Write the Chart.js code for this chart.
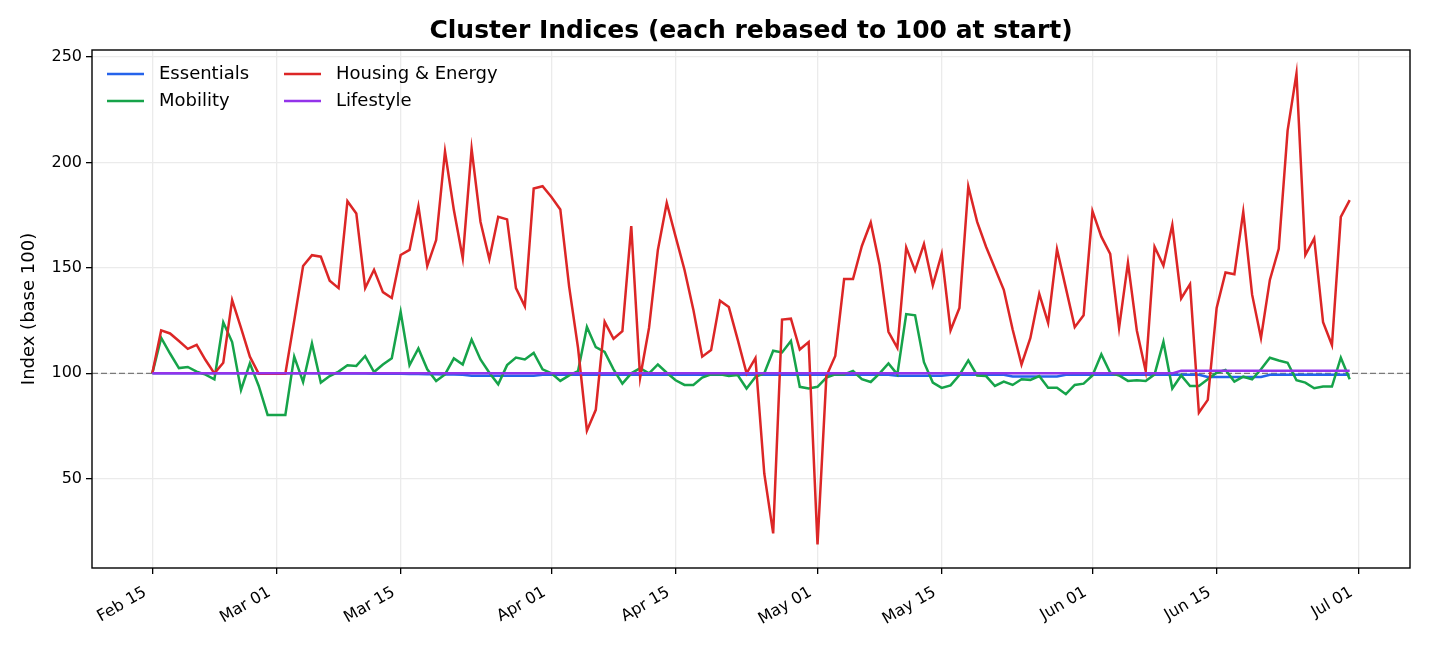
<!DOCTYPE html>
<html>
<head>
<meta charset="utf-8">
<script src="https://cdn.jsdelivr.net/npm/chart.js@4.4.1/dist/chart.umd.min.js"></script>
<style>
  html, body { margin: 0; padding: 0; background: #fff; }
</style>
</head>
<body>
<canvas id="chart" width="1430" height="650"></canvas>
<script>
// one value per day, Feb 15 -> Jun 30
const seriesNames = ["Essentials", "Mobility", "Housing & Energy", "Lifestyle"];
const seriesColors = ["#2563eb", "#16a34a", "#dc2626", "#9333ea"];

const tickDays = [0, 14, 28, 45, 59, 75, 89, 106, 120, 136];
const tickLabels = ["Feb 15", "Mar 01", "Mar 15", "Apr 01", "Apr 15", "May 01", "May 15", "Jun 01", "Jun 15", "Jul 01"];
const yTicks = [50, 100, 150, 200, 250];

const essentials = [
  100, 100, 100, 100, 100, 100, 100, 100, 100, 100,
  100, 100, 100, 100, 100, 100, 100, 100, 100, 100,
  99.9, 99.9, 99.9, 99.9, 99.9, 99.8, 99.8, 99.8, 99.8, 99.7,
  99.7, 99.6, 99.6, 99.5, 99.4, 99.3, 98.8, 98.8, 98.8, 98.8,
  98.8, 98.8, 98.8, 98.8, 99.3, 99.3, 99.3, 99.3, 99.3, 99.3,
  99.3, 99.3, 99.3, 99.3, 99.3, 99.3, 99.3, 99.3, 99.3, 99.3,
  99.3, 99.3, 99.3, 99.3, 99.3, 99.3, 99.3, 99.3, 99.3, 99.3,
  99.3, 99.3, 99.3, 99.3, 99.3, 99.3, 99.3, 99.3, 99.3, 99.3,
  99.3, 99.3, 99.3, 99.3, 98.9, 98.9, 98.9, 98.9, 98.9, 98.9,
  99.3, 99.3, 99.3, 99.3, 99.3, 99.3, 99.3, 98.5, 98.5, 98.5,
  98.5, 98.5, 98.5, 99.3, 99.3, 99.3, 99.3, 99.3, 99.3, 99.3,
  99.3, 99.3, 99.3, 99.3, 99.3, 99.3, 99.3, 99.3, 99.3, 98.3,
  98.3, 98.3, 98.3, 98.3, 98.3, 98.3, 99.3, 99.3, 99.3, 99.3,
  99.3, 99.3, 99.3, 99.3, 99.3, 99.3
];

const mobility = [
  100, 116.8, 109.4, 102.5, 103, 100.8, 99.4, 97.2, 124.2, 114.8,
  92.1, 104.7, 94, 80.3, 80.3, 80.3, 107.9, 95.9, 114.2, 95.6,
  98.7, 100.8, 103.8, 103.5, 108.2, 100.6, 104.2, 107.1, 129.1, 103.9,
  111.8, 101.9, 96.4, 99.5, 107.1, 104.2, 116, 106.6, 100.3, 94.8,
  103.9, 107.5, 106.6, 109.7, 101.9, 100, 96.4, 99, 101.1, 122,
  112.4, 110.2, 101.9, 95.1, 100, 102.4, 100, 104.2, 100.3, 96.7,
  94.5, 94.5, 98, 99.5, 99.5, 98.7, 99.2, 92.8, 98.3, 100,
  110.7, 109.9, 115.3, 93.6, 92.8, 93.6, 98, 99.5, 99.5, 101.1,
  97.2, 95.9, 100, 104.7, 99.5, 128.1, 127.5, 105.3, 95.6, 93.1,
  94.3, 99.2, 106.1, 99, 98.7, 94, 96.1, 94.5, 97.2, 96.9,
  98.7, 93.2, 93.2, 90.1, 94.5, 95.1, 99, 109, 100.3, 99,
  96.4, 96.7, 96.4, 99.5, 114.9, 92.8, 99, 94, 94, 97.2,
  100.3, 101.6, 96.1, 98.4, 97.2, 101.9, 107.4, 106.1, 105, 96.7,
  95.6, 92.9, 93.7, 93.7, 107.4, 97.2
];

const housing = [
  100, 120.4, 118.9, 115.3, 111.6, 113.5, 106.3, 100, 105, 134.7,
  121.5, 107.9, 99.8, 99.8, 99.8, 99.8, 125, 150.9, 156, 155.3,
  143.9, 140.4, 181.6, 175.8, 140.4, 149.1, 138.5, 135.7, 156.1, 158.5,
  179.2, 150.9, 163.2, 205.2, 177.4, 154.6, 206.4, 171.9, 154.1, 174.2,
  173, 140.4, 131.8, 187.6, 188.7, 183.6, 177.7, 141, 112, 72.8,
  82.7, 124.4, 116.4, 120, 169.8, 98, 121.5, 158.5, 180.8, 164.8,
  149.1, 130.2, 107.9, 111, 134.4, 131.4, 116, 100, 107.2, 52.4,
  24.1, 125.5, 125.9, 111.3, 114.8, 18.9, 98.7, 108.2, 144.7, 144.7,
  160.4, 171.5, 151.4, 119.7, 112.1, 159.7, 148.7, 161.3, 141.7, 156.6,
  120.4, 131, 188.6, 171.8, 160, 149.8, 139.6, 120.8, 104.2, 116.8,
  137.7, 123.9, 158.8, 140.4, 121.9, 127.5, 176.9, 164.8, 156.6, 121.5,
  152.5, 120.3, 101.1, 160, 151.1, 170.3, 135.5, 142.3, 81.4, 87.4,
  131, 147.8, 147, 176.6, 137.3, 116.8, 144.3, 159, 215.1, 242.1,
  156.1, 164, 124.2, 113.4, 174.2, 182.1
];

const lifestyle = [
  100, 100, 100, 100, 100, 100, 100, 100, 100, 100,
  100, 100, 100, 100, 100, 100, 100, 100, 100, 100,
  100, 100, 100, 100, 100, 100, 100, 100, 100, 100,
  100, 100, 100, 100, 100, 100, 100, 100, 100, 100,
  100, 100, 100, 100, 100, 100, 100, 100, 100, 100,
  100, 100, 100, 100, 100, 100, 100, 100, 100, 100,
  100, 100, 100, 100, 100, 100, 100, 100, 100, 100,
  100, 100, 100, 100, 100, 100, 100, 100, 100, 100,
  100, 100, 100, 100, 100, 100, 100, 100, 100, 100,
  100, 100, 100, 100, 100, 100, 100, 100, 100, 100,
  100, 100, 100, 100, 100, 100, 100, 100, 100, 100,
  100, 100, 100, 100, 100, 100, 101.2, 101.2, 101.2, 101.2,
  101.2, 101.2, 101.2, 101.2, 101.2, 101.2, 101.2, 101.2, 101.2, 101.2,
  101.2, 101.2, 101.2, 101.2, 101.2, 101.2
];

const allSeries = [essentials, mobility, housing, lifestyle];
const FONT = "'DejaVu Sans', sans-serif";

const toPoints = (arr) => arr.map((v, i) => ({ x: i, y: v }));

// dashed base line, frame, title and legend
const extras = {
  id: "extras",
  beforeDatasetsDraw(chart) {
    const { ctx, chartArea, scales } = chart;
    const y = scales.y.getPixelForValue(100);
    ctx.save();
    ctx.strokeStyle = "#7a7a7a";
    ctx.lineWidth = 1.4;
    ctx.setLineDash([6, 3]);
    ctx.beginPath();
    ctx.moveTo(chartArea.left, y);
    ctx.lineTo(chartArea.right, y);
    ctx.stroke();
    ctx.restore();
  },
  afterDraw(chart) {
    const { ctx, chartArea } = chart;
    ctx.save();
    ctx.strokeStyle = "#000";
    ctx.lineWidth = 1.4;
    ctx.strokeRect(chartArea.left, chartArea.top, chartArea.right - chartArea.left, chartArea.bottom - chartArea.top);

    ctx.fillStyle = "#000";
    ctx.font = "bold 25px " + FONT;
    ctx.textAlign = "center";
    ctx.textBaseline = "middle";
    ctx.fillText("Cluster Indices (each rebased to 100 at start)", (chartArea.left + chartArea.right) / 2, 31);

    // legend, two columns
    const cols = [chartArea.left + 15, chartArea.left + 192];
    const rows = [chartArea.top + 24, chartArea.top + 51];
    ctx.font = "18px " + FONT;
    ctx.textAlign = "left";
    seriesNames.forEach((name, i) => {
      const x = cols[Math.floor(i / 2)];
      const y = rows[i % 2];
      ctx.strokeStyle = seriesColors[i];
      ctx.lineWidth = 2.6;
      ctx.beginPath();
      ctx.moveTo(x, y);
      ctx.lineTo(x + 37, y);
      ctx.stroke();
      ctx.fillText(name, x + 52, y);
    });
    ctx.restore();
  }
};

const gridColor = "#ebebeb";

new Chart(document.getElementById("chart"), {
  type: "line",
  data: {
    datasets: allSeries.map((arr, i) => ({
      label: seriesNames[i],
      data: toPoints(arr),
      borderColor: seriesColors[i],
      backgroundColor: seriesColors[i],
      borderWidth: 2.5,
      pointRadius: 0,
      tension: 0,
      order: 4 - i
    }))
  },
  options: {
    responsive: false,
    animation: false,
    devicePixelRatio: 1,
    layout: { padding: { top: 50, right: 20, left: 0, bottom: 0 } },
    plugins: {
      legend: { display: false },
      tooltip: { enabled: false }
    },
    scales: {
      x: {
        type: "linear",
        min: -6.8,
        max: 141.8,
        afterBuildTicks: (s) => { s.ticks = tickDays.map((v) => ({ value: v })); },
        afterFit: (s) => { s.height = 82; },
        ticks: {
          autoSkip: false,
          minRotation: 30,
          maxRotation: 30,
          padding: 9,
          labelOffset: -7,
          color: "#000",
          font: { family: FONT, size: 16 },
          callback: (v) => tickLabels[tickDays.indexOf(v)]
        },
        grid: { color: gridColor, lineWidth: 1.3, tickLength: 6, tickColor: "#000", tickWidth: 1.3 },
        border: { display: false }
      },
      y: {
        min: 7.7,
        max: 253.3,
        afterBuildTicks: (s) => { s.ticks = yTicks.map((v) => ({ value: v })); },
        afterFit: (s) => { s.width = 92; },
        ticks: {
          padding: 4,
          color: "#000",
          font: { family: FONT, size: 16 }
        },
        grid: { color: gridColor, lineWidth: 1.3, tickLength: 6, tickColor: "#000", tickWidth: 1.3 },
        border: { display: false },
        title: {
          display: true,
          text: "Index (base 100)",
          color: "#000",
          font: { family: FONT, size: 18 },
          padding: { top: 19, bottom: 0 }
        }
      }
    }
  },
  plugins: [extras]
});
</script>
</body>
</html>
